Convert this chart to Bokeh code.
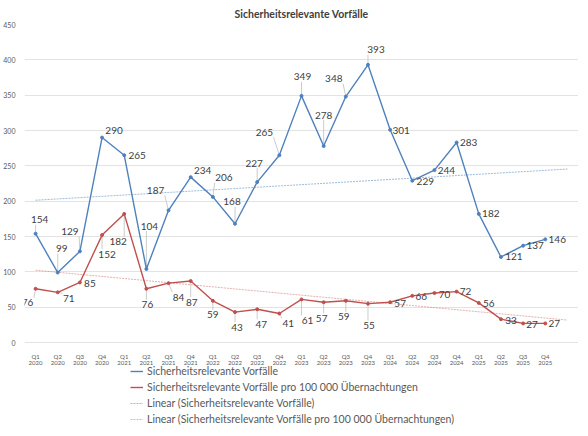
import numpy as np
from bokeh.plotting import figure
from bokeh.models import Legend, LegendItem, FixedTicker, ColumnDataSource
from bokeh.core.properties import value
from bokeh.embed import file_html
from bokeh.resources import INLINE

# ---- data ----
quarters = ["Q1", "Q2", "Q3", "Q4"] * 6
years = ["2020"] * 4 + ["2021"] * 4 + ["2022"] * 4 + ["2023"] * 4 + ["2024"] * 4 + ["2025"] * 4
incidents = [154, 99, 129, 290, 265, 104, 187, 234, 206, 168, 227, 265,
             349, 278, 348, 393, 301, 229, 244, 283, 182, 121, 137, 146]
per_100k = [76, 71, 85, 152, 182, 76, 84, 87, 59, 43, 47, 41,
            61, 57, 59, 55, 57, 66, 70, 72, 56, 33, 27, 27]
y_ticks = [0, 50, 100, 150, 200, 250, 300, 350, 400, 450]

name_a = "Sicherheitsrelevante Vorfälle"
name_b = "Sicherheitsrelevante Vorfälle pro 100 000 Übernachtungen"

# label placement (screen px offsets from the point; styling only)
blue_dx = [4, 4, -10, 12, 13, 3, -13, 12, 11, -3, -3, -15, 1, 0, -12, 8, 11, 13, 12, 12, 12, 13, 12, 12]
blue_dy = [-14, -24, -20, -7, 0, -43, -20, -7, -19, -22, -19, -23, -19, -31, -18, -15, 1, 1, 0, 0, 0, 0, 0, 0]
red_dx = [-8, 11, 10, 5, -6, 1, 10, 1, 0, 2, 4, 9, 6, -2, -2, 1, 10, 9, 10, 9, 10, 10, 9, 9]
red_dy = [14, 6, 1, 19, 28, 16, 14, 21, 14, 15, 15, 10, 21, 16, 16, 22, 1, 1, 1, 0, 1, 1, 1, 0]

BLUE = "#4F81BD"
RED = "#C0504D"
FONT = "Lato"

n = len(incidents)
xs = list(range(n))

# frame: value axis 0..450 occupies the upper 318 px; the area below hosts
# the category labels and the legend
FW, FH = 554, 403
PLOT_H = 318
y_top = 450
y_bottom = y_top - FH * y_top / PLOT_H

p = figure(frame_width=FW, frame_height=FH, output_backend="svg", toolbar_location=None,
           x_range=(-0.5, n + 0.5), y_range=(y_bottom, y_top),
           min_border_left=0, min_border_right=0, min_border_top=0, min_border_bottom=0)
p.outline_line_color = None
p.background_fill_color = "white"

p.title.text = name_a
p.title.align = "center"
p.title.text_font = FONT
p.title.text_font_size = "10.5px"
p.title.text_font_style = "bold"
p.title.text_color = "#404040"
p.title.standoff = 10
p.title.offset = 0

# axes
p.xaxis.fixed_location = 0
p.xaxis.ticker = FixedTicker(ticks=xs)
p.xaxis.major_label_overrides = {i: f"{quarters[i]}\n{years[i]}" for i in xs}
p.xaxis.major_label_text_font = FONT
p.xaxis.major_label_text_font_size = "6px"
p.xaxis.major_label_text_line_height = 0.95
p.xaxis.major_label_text_color = "#595959"
p.xaxis.major_label_standoff = 4
p.xaxis.axis_line_color = None
p.xaxis.major_tick_line_color = None
p.xaxis.minor_tick_line_color = None

p.yaxis.ticker = FixedTicker(ticks=y_ticks)
p.yaxis.major_label_text_font = FONT
p.yaxis.major_label_text_font_size = "7px"
p.yaxis.major_label_text_color = "#595959"
p.yaxis.major_label_standoff = 3
p.yaxis.axis_line_color = None
p.yaxis.major_tick_line_color = None
p.yaxis.minor_tick_line_color = None

p.xgrid.grid_line_color = None
p.ygrid.grid_line_color = "#E3E3E3"
p.ygrid.grid_line_width = 1

# trend lines (least squares, forecast forward one period)
xt = np.arange(n + 1)
ka, ca = np.polyfit(xs, incidents, 1)
kb, cb = np.polyfit(xs, per_100k, 1)
tr_a = p.line(xt, ka * xt + ca, line_color=BLUE, line_width=1, line_alpha=0.55, line_dash="2 1")
tr_b = p.line(xt, kb * xt + cb, line_color=RED, line_width=1, line_alpha=0.45, line_dash="2 1")

# leader lines
px_x = FW / (n + 1)
px_y = PLOT_H / 450.0


def leaders(vals, dxs, dys):
    x0s, y0s, x1s, y1s = [], [], [], []
    for i, (v, dx, dy) in enumerate(zip(vals, dxs, dys)):
        hw = len(str(v)) * 2.9 + 0.5
        hh = 5.0
        ex = min(max(0, dx - hw), dx + hw)
        ey = min(max(0, dy - hh), dy + hh)
        if (ex * ex + ey * ey) ** 0.5 > 4:
            x0s.append(i)
            y0s.append(v)
            x1s.append(i + ex / px_x)
            y1s.append(v - ey / px_y)
    return x0s, y0s, x1s, y1s


for vals, dxs, dys in ((incidents, blue_dx, blue_dy), (per_100k, red_dx, red_dy)):
    a, b, c, d = leaders(vals, dxs, dys)
    p.segment(a, b, c, d, line_color="#BFBFBF", line_width=0.8)

# series
la = p.line(xs, incidents, line_color=BLUE, line_width=1.4)
ma = p.scatter(xs, incidents, size=3, fill_color=BLUE, line_color=BLUE)
lb = p.line(xs, per_100k, line_color=RED, line_width=1.4)
mb = p.scatter(xs, per_100k, size=3, fill_color=RED, line_color=RED)

# data labels
src_a = ColumnDataSource(dict(x=xs, y=incidents, t=[str(v) for v in incidents], dx=blue_dx, dy=blue_dy))
src_b = ColumnDataSource(dict(x=xs, y=per_100k, t=[str(v) for v in per_100k], dx=red_dx, dy=red_dy))
for src in (src_a, src_b):
    p.text(x="x", y="y", text="t", x_offset="dx", y_offset="dy", source=src,
           text_font=value(FONT), text_font_size="10px", text_color="#404040",
           text_align="center", text_baseline="middle")

legend = Legend(items=[
    LegendItem(label=name_a, renderers=[la]),
    LegendItem(label=name_b, renderers=[lb]),
    LegendItem(label="Linear (" + name_a + ")", renderers=[tr_a]),
    LegendItem(label="Linear (" + name_b + ")", renderers=[tr_b]),
], location=(106, 0), orientation="vertical")
legend.label_text_font = FONT
legend.label_text_font_size = "10.5px"
legend.label_text_color = "#595959"
legend.glyph_width = 13
legend.glyph_height = 16
legend.label_height = 16
legend.label_standoff = 4
legend.spacing = 0
legend.padding = 0
legend.margin = 0
legend.border_line_color = None
legend.background_fill_alpha = 0
p.add_layout(legend)

open("out.html", "w").write(file_html(p, INLINE))
